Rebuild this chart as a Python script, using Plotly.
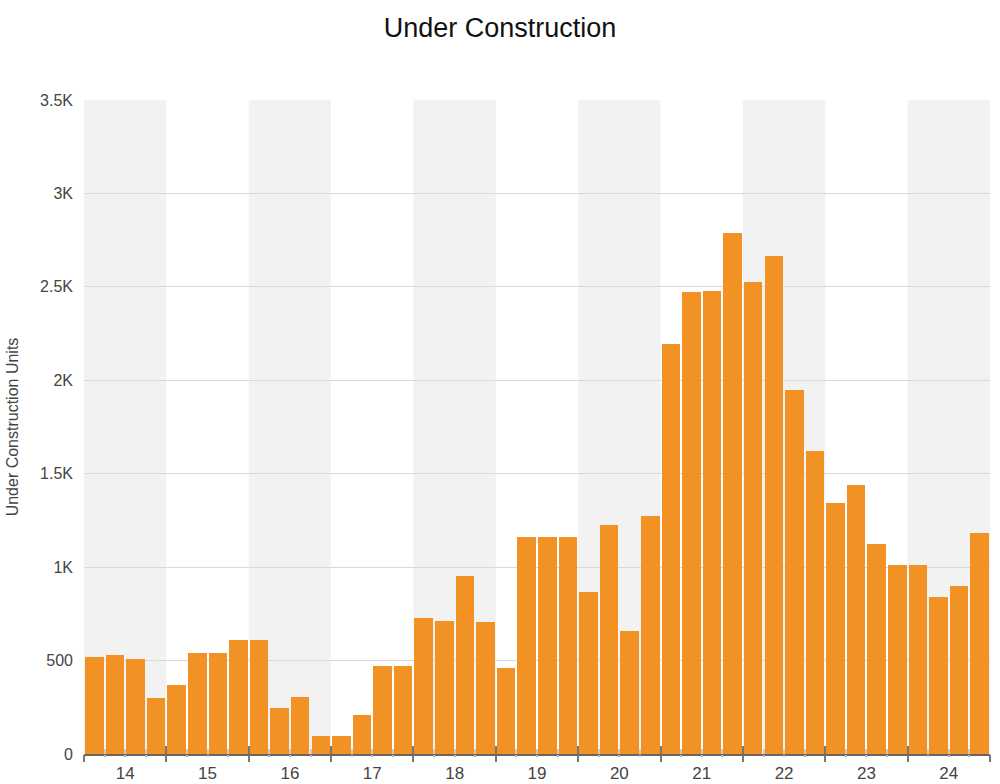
import plotly.graph_objects as go

years = ["14", "15", "16", "17", "18", "19", "20", "21", "22", "23", "24"]
quarters_per_year = 4
units = [
    520, 528, 509, 300,
    371, 539, 539, 612,
    612, 244, 307, 94,
    94, 207, 473, 473,
    727, 714, 955, 709,
    462, 1160, 1160, 1160,
    869, 1227, 657, 1276,
    2194, 2474, 2477, 2790,
    2524, 2663, 1947, 1620,
    1342, 1437, 1125, 1012,
    1012, 841, 900, 1182,
]
y_tickvals = [0, 500, 1000, 1500, 2000, 2500, 3000, 3500]
y_ticktext = ["0", "500", "1K", "1.5K", "2K", "2.5K", "3K", "3.5K"]

n = len(units)
x_pos = [i + 0.5 for i in range(n)]
year_centers = [quarters_per_year * k + quarters_per_year / 2 for k in range(len(years))]
year_bounds = [quarters_per_year * k for k in range(len(years) + 1)]

FONT = "Liberation Sans, Arial, Helvetica, sans-serif"
BAR = "#f29225"
W, H = 1000, 784

fig = go.Figure()
fig.add_trace(go.Bar(x=x_pos, y=units, width=0.9, marker=dict(color=BAR, line=dict(width=0)),
                     hovertemplate="%{y}<extra></extra>"))
# invisible traces to make the tick-only overlay axes render
fig.add_trace(go.Scatter(x=[0, n], y=[0, 0], mode="markers", marker=dict(opacity=0),
                         xaxis="x2", showlegend=False, hoverinfo="skip"))
fig.add_trace(go.Scatter(x=[0, n], y=[0, 0], mode="markers", marker=dict(opacity=0),
                         xaxis="x3", showlegend=False, hoverinfo="skip"))

# alternating year bands
shapes = []
for k in range(0, len(years), 2):
    shapes.append(dict(type="rect", xref="x", yref="y", x0=year_bounds[k], x1=year_bounds[k + 1],
                       y0=0, y1=y_tickvals[-1], fillcolor="#f2f2f2", line=dict(width=0), layer="below"))

fig.update_layout(
    width=W, height=H,
    margin=dict(l=84, r=10, t=100, b=30, autoexpand=False),
    paper_bgcolor="white", plot_bgcolor="white",
    showlegend=False,
    bargap=0,
    shapes=shapes,
    font=dict(family=FONT, color="#444"),
    title=dict(text="Under Construction", x=0.5, xref="container", xanchor="center",
               y=1 - 28 / H, yref="container", yanchor="middle",
               pad=dict(t=0, b=0, l=0, r=0),
               font=dict(family=FONT, size=27, color="#111")),
    xaxis=dict(range=[0, n], tickmode="array", tickvals=year_centers, ticktext=years,
               ticks="", showgrid=False, zeroline=False, showline=True, linecolor="#666", linewidth=2,
               tickfont=dict(size=17, color="#444"), ticklabelstandoff=3, automargin=False),
    xaxis2=dict(range=[0, n], overlaying="x", anchor="y", side="bottom", tickmode="array",
                tickvals=year_bounds, showticklabels=False, ticks="outside", ticklen=7, tickwidth=2,
                tickcolor="#777", showgrid=False, zeroline=False, showline=False, automargin=False,
                minor=dict(tickmode="linear", tick0=0, dtick=1, ticks="outside", ticklen=2,
                           tickcolor="#bbb", tickwidth=2, showgrid=False)),
    xaxis3=dict(range=[0, n], overlaying="x", anchor="y", side="bottom", tickmode="array",
                tickvals=year_bounds, showticklabels=False, ticks="inside", ticklen=8, tickwidth=2,
                tickcolor="#777", showgrid=False, zeroline=False, showline=False, automargin=False,
                minor=dict(tickmode="linear", tick0=0, dtick=1, ticks="inside", ticklen=5,
                           tickcolor="#ccc", tickwidth=2, showgrid=False)),
    yaxis=dict(range=[0, 3500], tickmode="array", tickvals=y_tickvals, ticktext=y_ticktext,
               showgrid=True, gridcolor="#d9d9d9", gridwidth=1, zeroline=False, showline=False,
               ticks="", tickfont=dict(size=16, color="#444"), ticklabelstandoff=10, automargin=False,
               title=dict(text="Under Construction Units", font=dict(size=16, color="#444"), standoff=17)),
)

fig.write_html("out.html", config={"displayModeBar": False},
               post_script="document.body.style.margin='0';document.body.style.overflow='hidden';")
